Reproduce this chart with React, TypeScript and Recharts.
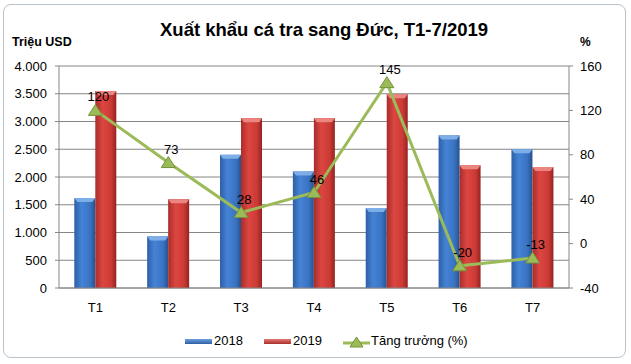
import React from 'react';
import { ComposedChart, Bar, Line, XAxis, YAxis, CartesianGrid, LabelList } from 'recharts';

const months = ['T1', 'T2', 'T3', 'T4', 'T5', 'T6', 'T7'];
const exports2018 = [1620, 930, 2400, 2100, 1440, 2750, 2500];
const exports2019 = [3550, 1600, 3060, 3060, 3490, 2210, 2180];
const growth = [120, 73, 28, 46, 145, -20, -13];

const leftTicks = [0, 500, 1000, 1500, 2000, 2500, 3000, 3500, 4000];
const rightTicks = [-40, 0, 40, 80, 120, 160];
const boundaryTicks = [0, 1, 2, 3, 4, 5, 6, 7];

const data = months.map((m, i) => ({
  month: m,
  y2018: exports2018[i],
  y2019: exports2019[i],
  growth: growth[i],
}));

const FONT = '"Liberation Sans", Arial, sans-serif';
const AXIS = '#868686';

const fmtThousands = (v: number) => v.toString().replace(/\B(?=(\d{3})+(?!\d))/g, '.');

// bar with a lighter bevel on top, like the Excel 3D-ish style
const makeBar = (grad: string, cap: string) => (props: any) => {
  const { x, y, width, height } = props;
  if (!height || height <= 0) return null;
  return (
    <g>
      <rect x={x} y={y} width={width} height={height} fill={`url(#${grad})`} />
      <path d={`M${x},${y} L${x + width},${y} L${x + width - 3},${y + 4} L${x + 3},${y + 4} Z`} fill={cap} />
    </g>
  );
};
const BlueBar = makeBar('gBlue', '#7eaee8');
const RedBar = makeBar('gRed', '#ec8580');

const Triangle = (props: any) => {
  const { cx, cy } = props;
  if (cx == null || cy == null) return null;
  return (
    <path
      d={`M${cx},${cy - 6} L${cx + 7},${cy + 5} L${cx - 7},${cy + 5} Z`}
      fill="#9bbb59"
      stroke="#76923c"
      strokeWidth={1}
    />
  );
};

const GrowthLabel = (props: any) => {
  const { x, y, value } = props;
  return (
    <text x={x + 3} y={y - 9} textAnchor="middle" fontSize={13} fontFamily={FONT} fill="#000">
      {value}
    </text>
  );
};

const App: React.FC = () => {
  return (
    <div style={{ position: 'absolute', left: 0, top: 0, width: 631, height: 364, background: '#fff', fontFamily: FONT }}>
      <div
        style={{
          position: 'absolute', left: 3, top: 4, width: 621, height: 352,
          border: '1px solid #b9c3cc', borderRadius: 8,
        }}
      />
      <div style={{ position: 'absolute', left: 160, top: 19, fontSize: 18.5, fontWeight: 'bold', color: '#000', whiteSpace: 'nowrap' }}>
        Xuất khẩu cá tra sang Đức, T1-7/2019
      </div>
      <div style={{ position: 'absolute', left: 12, top: 35, fontSize: 12.5, fontWeight: 'bold', color: '#000', whiteSpace: 'nowrap' }}>
        Triệu USD
      </div>
      <div style={{ position: 'absolute', left: 580, top: 35, fontSize: 12, fontWeight: 'bold', color: '#000' }}>
        %
      </div>

      <ComposedChart
        width={631}
        height={364}
        data={data}
        margin={{ top: 66, right: 0, left: 0, bottom: 46 }}
        barCategoryGap="21%"
        barGap={0}
        style={{ position: 'absolute', left: 0, top: 0 }}
      >
        <defs>
          <linearGradient id="gBlue" x1="0" y1="0" x2="1" y2="0">
            <stop offset="0%" stopColor="#2d5fa6" />
            <stop offset="35%" stopColor="#4583d6" />
            <stop offset="75%" stopColor="#3a73c2" />
            <stop offset="100%" stopColor="#25528f" />
          </linearGradient>
          <linearGradient id="gRed" x1="0" y1="0" x2="1" y2="0">
            <stop offset="0%" stopColor="#a82d29" />
            <stop offset="35%" stopColor="#dc4641" />
            <stop offset="75%" stopColor="#cc3a35" />
            <stop offset="100%" stopColor="#942420" />
          </linearGradient>
        </defs>
        <CartesianGrid yAxisId="left" vertical={false} stroke={AXIS} strokeWidth={1} />
        <XAxis
          xAxisId="bounds"
          type="number"
          domain={[0, 7]}
          ticks={boundaryTicks}
          allowDataOverflow
          height={0}
          axisLine={false}
          tickLine={{ stroke: AXIS }}
          tickSize={5}
          tick={() => <g />}
        />
        <XAxis
          dataKey="month"
          height={30}
          axisLine={{ stroke: AXIS }}
          tickLine={false}
          tick={{ fill: '#000', fontSize: 13, fontFamily: FONT }}
          tickMargin={9}
        />
        <YAxis
          yAxisId="left"
          domain={[0, 4000]}
          ticks={leftTicks}
          width={59}
          axisLine={{ stroke: AXIS }}
          tickLine={{ stroke: AXIS }}
          tickSize={4}
          tickMargin={8}
          tickFormatter={fmtThousands}
          tick={{ fill: '#000', fontSize: 13, fontFamily: FONT }}
        />
        <YAxis
          yAxisId="right"
          orientation="right"
          domain={[-40, 160]}
          ticks={rightTicks}
          width={62}
          axisLine={{ stroke: AXIS }}
          tickLine={{ stroke: AXIS }}
          tickSize={4}
          tickMargin={7}
          tick={{ fill: '#000', fontSize: 13, fontFamily: FONT }}
        />
        <Bar yAxisId="left" dataKey="y2018" name="2018" fill="#3a73c2" shape={BlueBar} isAnimationActive={false} />
        <Bar yAxisId="left" dataKey="y2019" name="2019" fill="#cc3a35" shape={RedBar} isAnimationActive={false} />
        <Line
          yAxisId="right"
          dataKey="growth"
          name="Tăng trưởng (%)"
          stroke="#9bbb59"
          strokeWidth={3}
          dot={<Triangle />}
          activeDot={false}
          isAnimationActive={false}
        >
          <LabelList dataKey="growth" content={<GrowthLabel />} />
        </Line>
      </ComposedChart>

      <div style={{ position: 'absolute', left: 0, top: 333, width: 631, height: 18, fontSize: 13, color: '#000' }}>
        <div style={{ position: 'absolute', left: 185, top: 6, width: 27, height: 5, background: 'linear-gradient(#6fa0e0, #2d5fa6)' }} />
        <div style={{ position: 'absolute', left: 214, top: 0 }}>2018</div>
        <div style={{ position: 'absolute', left: 264, top: 6, width: 27, height: 5, background: 'linear-gradient(#e77a76, #a82d29)' }} />
        <div style={{ position: 'absolute', left: 293, top: 0 }}>2019</div>
        <svg style={{ position: 'absolute', left: 343, top: 2 }} width={27} height={14}>
          <line x1={0} y1={8} x2={27} y2={8} stroke="#9bbb59" strokeWidth={3} />
          <path d="M13.5,2 L20,12 L7,12 Z" fill="#9bbb59" stroke="#76923c" strokeWidth={1} />
        </svg>
        <div style={{ position: 'absolute', left: 371, top: 0, whiteSpace: 'nowrap' }}>Tăng trưởng (%)</div>
      </div>
    </div>
  );
};

export default App;
